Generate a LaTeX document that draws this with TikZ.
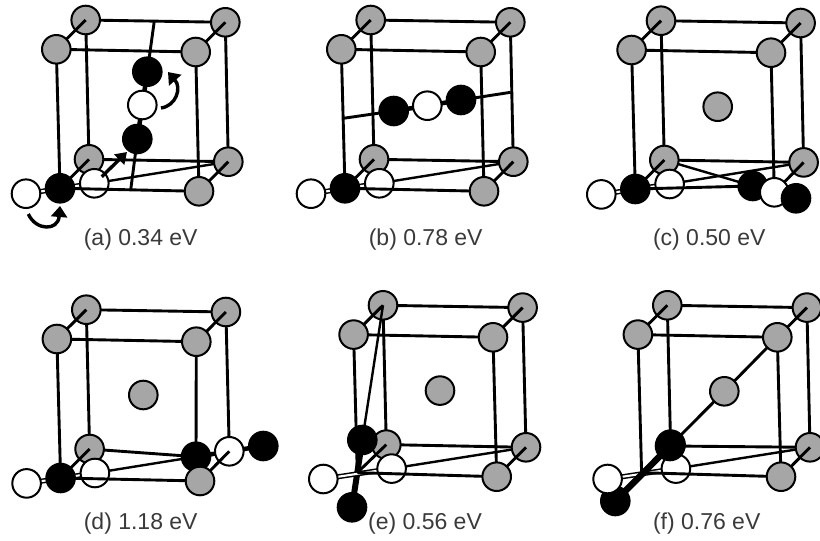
\documentclass[tikz,border=0pt]{standalone}
\usepackage{fontspec}
\setmainfont{Liberation Sans}
\usetikzlibrary{arrows.meta}
\pgfdeclarelayer{under}
\pgfdeclarelayer{above}
\pgfsetlayers{under,main,above}
\definecolor{atomgray}{HTML}{A6A6A6}
\definecolor{labelgray}{HTML}{3A3A3A}
\newcommand\lowdraw[1]{\begin{pgfonlayer}{under}#1\end{pgfonlayer}}
\newcommand\highdraw[1]{\begin{pgfonlayer}{above}#1\end{pgfonlayer}}
\tikzset{
  atom/.style={circle,draw=black,line width=2pt,inner sep=0pt,outer sep=0pt,minimum size=28.6pt},
  grayatom/.style={atom,fill=atomgray},
  whiteatom/.style={atom,fill=white},
  blackatom/.style={atom,fill=black},
  bar/.style={draw=black,line width=2.9pt},
  thinbar/.style={draw=black,line width=2.4pt},
  bond/.style={draw=black,line width=4.5pt},
  whitebond/.style={draw=black,line width=1.5pt,double=white,double distance=2.1pt},
  curlyarrow/.style={draw=black,line width=3.4pt,-{Triangle[length=11pt,width=16pt]}},
  straightarrow/.style={draw=black,line width=3.4pt,-{Triangle[length=11pt,width=14pt]}},
  caption/.style={text=labelgray,font=\fontsize{23}{26}\selectfont,inner sep=0pt}
}
% the part common to every cell: four top atoms, back-lower-left atom, the two white atoms
\newcommand\cellbase[1]{%
  \node[grayatom] (#1btl) at (85.7,20) {};
  \node[grayatom] (#1btr) at (225.3,22.3) {};
  \node[grayatom] (#1ftl) at (56.3,49.3) {};
  \node[grayatom] (#1ftr) at (195.7,52) {};
  \node[grayatom] (#1bbl) at (89,159.3) {};
  \node[whiteatom] (#1wn) at (94.3,183.3) {};
  \node[whiteatom] (#1wl) at (26,193.7) {};
  \lowdraw{
    \draw[bar] (#1btl) -- (#1btr);
    \draw[bar] (#1ftl) -- (#1ftr);
    \draw[bar] (#1btl) -- (#1bbl);
  }
  \highdraw{
    \draw[bar] (#1btl.center) -- (#1ftl);
    \draw[bar] (#1btr.center) -- (#1ftr);
  }
}
% the regular lower-left corner: black atom, white bond, diagonal
\newcommand\lowerleft[1]{%
  \node[blackatom] (#1fbl) at (60,188.3) {};
  \lowdraw{
    \draw[whitebond] (#1wl) -- (#1wn);
    \draw[bar] (#1ftl) -- (#1fbl);
  }
  \highdraw{\draw[bar] (#1bbl.center) -- (#1fbl);}
}
\begin{document}
\begin{tikzpicture}[x=1pt,y=-1pt]
\useasboundingbox (0,0) rectangle (820,541);
\lowdraw{\fill[white] (0,0) rectangle (820,541);}

% ---------- (a)
\begin{scope}
  \cellbase{a}
  \lowerleft{a}
  \node[grayatom] (abbr) at (228.3,161.7) {};
  \node[grayatom] (afbr) at (199,191.3) {};
  \node[blackatom] (ab1) at (147.3,71.7) {};
  \node[whiteatom] (aw) at (142.3,105) {};
  \node[blackatom] (ab2) at (137.3,139) {};
  \coordinate (atopmid) at (154.3,21);
  \coordinate (abotmid) at (130.7,190);
  \coordinate (aarr1) at (101.7,176.7);
  \coordinate (aarr2) at (127,152);
  \coordinate (acur1) at (161,108);
  \coordinate (acur2) at (168,72);
  \coordinate (acur3) at (28.3,214);
  \coordinate (acur4) at (60,206);
  \lowdraw{
    \draw[bar] (abtr) -- (abbr);
    \draw[bar] (aftr) -- (afbr);
    \draw[bond] (ab1) -- (aw);
    \draw[bond] (aw) -- (ab2);
  }
  \highdraw{
    \draw[bar] (abbl) -- (abbr);
    \draw[thinbar] (awn) -- (abbr);
    \draw[bar] (afbl) -- (afbr);
    \draw[bar] (abbr.center) -- (afbr);
    \draw[bar] (atopmid) -- (ab1);
    \draw[bar] (ab2) -- (abotmid);
    \draw[straightarrow] (aarr1) -- (aarr2);
    \draw[curlyarrow] (acur1) .. controls (176,106) and (182,88) .. (acur2);
    \draw[curlyarrow] (acur3) .. controls (36,231) and (58,231) .. (acur4);
  }
  \node[caption] (alabel) at (140.7,240) {(a) 0.34 eV};
\end{scope}

% ---------- (b)
\begin{scope}[shift={(285,0)}]
  \cellbase{b}
  \lowerleft{b}
  \node[grayatom] (bbbr) at (228.3,161.7) {};
  \node[grayatom] (bfbr) at (199,191.3) {};
  \node[blackatom] (bb1) at (108.7,111) {};
  \node[whiteatom] (bw) at (142.3,105.7) {};
  \node[blackatom] (bb2) at (176,100) {};
  \coordinate (bleft) at (58.3,118.3);
  \coordinate (bright) at (225.7,92.3);
  \lowdraw{
    \draw[bar] (bbtr) -- (bbbr);
    \draw[bar] (bftr) -- (bfbr);
    \draw[bond] (bb1) -- (bw);
    \draw[bond] (bw) -- (bb2);
    \draw[bar] (bleft) -- (bb1);
    \draw[bar] (bb2) -- (bright);
  }
  \highdraw{
    \draw[bar] (bbbl) -- (bbbr);
    \draw[thinbar] (bwn) -- (bbbr);
    \draw[bar] (bfbl) -- (bfbr);
    \draw[bar] (bbbr.center) -- (bfbr);
  }
  \node[caption] (blabel) at (140.7,240) {(b) 0.78 eV};
\end{scope}

% ---------- (c)
\begin{scope}[shift={(575.3,0.7)}]
  \cellbase{c}
  \lowerleft{c}
  \node[grayatom] (cbbr) at (228.3,161.7) {};
  \node[grayatom] (cmid) at (142.4,106) {};
  \node[blackatom] (cb1) at (177.4,185.3) {};
  \node[whiteatom] (cw) at (199,191.6) {};
  \node[blackatom] (cb2) at (220.7,197.6) {};
  \lowdraw{
    \draw[bar] (cbtr) -- (cbbr);
    \draw[bar] (cftr) -- (cw);
  }
  \highdraw{
    \draw[bar] (cbbl) -- (cbbr);
    \draw[thinbar] (cwn) -- (cbbr);
    \draw[thinbar] (cbbl) -- (cb1);
    \draw[bar] (cfbl) -- (cb1);
    \draw[bar] (cbbr.center) -- (cw);
  }
  \node[caption] (clabel) at (134,238.6) {(c) 0.50 eV};
\end{scope}

% ---------- (d)
\begin{scope}[shift={(0.6,289.7)}]
  \cellbase{d}
  \lowerleft{d}
  \node[blackatom] (db1) at (195.4,167) {};
  \node[grayatom] (dfbr) at (199.4,191.3) {};
  \node[whiteatom] (dw) at (228.7,161.6) {};
  \node[blackatom] (db2) at (262.7,156.3) {};
  \node[grayatom] (dmid) at (142.7,105.3) {};
  \lowdraw{
    \draw[bar] (dbtr) -- (dw);
    \draw[bar] (dftr) -- (db1);
    \draw[bond] (db1) -- (dw);
    \draw[bond] (dw) -- (db2);
  }
  \highdraw{
    \draw[bar] (dbbl) -- (db1);
    \draw[thinbar] (dwn) -- (db1);
    \draw[bar] (dfbl) -- (dfbr);
    \draw[bar] (dw.center) -- (dfbr);
  }
  \node[caption] (dlabel) at (140.1,234) {(d) 1.18 eV};
\end{scope}

% ---------- (e)
\begin{scope}[shift={(297.3,285.3)}]
  \cellbase{e}
  \coordinate (efbl) at (60,187.4);
  \node[grayatom] (ebbr) at (228.7,162) {};
  \node[grayatom] (efbr) at (199.4,191.4) {};
  \node[grayatom] (emid) at (142.7,105.3) {};
  \node[blackatom] (eb1) at (65,154.7) {};
  \node[blackatom] (eb2) at (54.7,222) {};
  \lowdraw{
    \draw[bar] (ebtr) -- (ebbr);
    \draw[bar] (eftr) -- (efbr);
    \draw[bar] (eftl) -- (efbl);
    \draw[bond,line width=6pt] (eb1) -- (eb2);
    \draw[whitebond] (ewl) -- (ewn);
  }
  \highdraw{
    \draw[thinbar] (ebtl.center) -- (eb1);
    \draw[bar] (ebbl.center) -- (efbl);
    \draw[bar] (ebbl) -- (ebbr);
    \draw[thinbar] (ewn) -- (ebbr);
    \draw[bar] (efbl) -- (efbr);
    \draw[bar] (ebbr.center) -- (efbr);
  }
  \node[caption] (elabel) at (127.7,238.4) {(e) 0.56 eV};
\end{scope}

% ---------- (f)
\begin{scope}[shift={(581.6,285.3)}]
  \cellbase{f}
  \coordinate (ffbl) at (60,187.4);
  \node[grayatom] (fbbr) at (228.4,162) {};
  \node[grayatom] (ffbr) at (199.4,191.4) {};
  \node[grayatom] (fmid) at (142.7,106) {};
  \node[blackatom] (fb1) at (88.4,160.7) {};
  \lowdraw{
    \node[blackatom] (fb2) at (33.7,215.7) {};
    \draw[bar] (fbtr) -- (fbbr);
    \draw[bar] (fftr) -- (ffbr);
    \draw[bar] (fftl) -- (ffbl);
    \draw[whitebond] (fwl) -- (fwn);
  }
  \highdraw{
    \draw[bar] (fb1) -- (fbbr);
    \draw[thinbar] (fwn) -- (fbbr);
    \draw[bar] (ffbl) -- (ffbr);
    \draw[bar] (fbbr.center) -- (ffbr);
    \draw[bar] (fftr) -- (fmid);
    \draw[bar] (fmid) -- (fb1);
    \draw[bond,line width=6.5pt] (fb1) -- (fb2);
  }
  \node[caption] (flabel) at (125.1,238.4) {(f) 0.76 eV};
\end{scope}
\end{tikzpicture}
\end{document}
